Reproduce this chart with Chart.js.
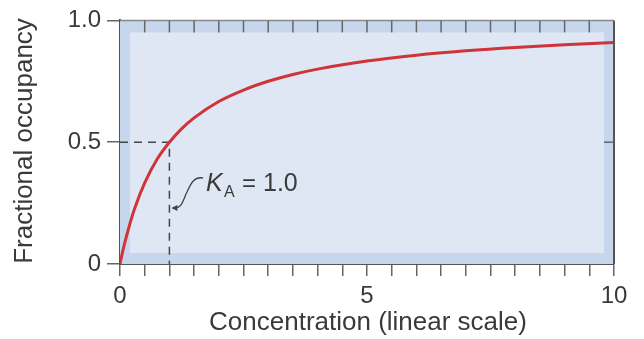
<!DOCTYPE html>
<html>
<head>
<meta charset="utf-8">
<script src="https://cdn.jsdelivr.net/npm/chart.js@4.4.1/dist/chart.umd.min.js"></script>
<style>
  html, body { margin: 0; padding: 0; background: #fff; }
  #wrap { width: 644px; height: 339px; }
</style>
</head>
<body>
<div id="wrap"><canvas id="chart"></canvas></div>
<script>
// values
const concentration = [0, 0.05, 0.1, 0.2, 0.3, 0.5, 0.75, 1, 1.25, 1.5, 2, 2.5, 3, 3.5, 4, 5, 6, 7, 8, 9, 10];
const occupancy = [0, 0.048, 0.09, 0.165, 0.23, 0.333, 0.43, 0.5, 0.556, 0.6, 0.667, 0.714, 0.75, 0.778, 0.8, 0.833, 0.857, 0.875, 0.889, 0.9, 0.909];
const kaX = [0, 1, 1];
const kaY = [0.5, 0.5, 0];
const xLabels = [0, 5, 10];
const yLabels = [0, 0.5, 1.0];
const xTitle = 'Concentration (linear scale)';
const yTitle = 'Fractional occupancy';

const FONT = "'Liberation Sans', Arial, Helvetica, sans-serif";
const TEXT = '#3a3a3a';
const AXIS = '#555';

const curve = concentration.map((x, i) => ({ x: x, y: occupancy[i] }));
const kaLine = kaX.map((x, i) => ({ x: x, y: kaY[i] }));

const framePlugin = {
    id: 'frame',
    beforeDatasetsDraw(chart) {
        const { ctx, chartArea: a } = chart;
        ctx.save();
        ctx.fillStyle = '#c6d6ec';
        ctx.fillRect(a.left, a.top, a.right - a.left, a.bottom - a.top);
        ctx.fillStyle = '#dfe7f4';
        ctx.fillRect(a.left + 10, a.top + 12, a.right - a.left - 20, a.bottom - a.top - 23);
        ctx.restore();
    },
    afterDatasetsDraw(chart) {
        const { ctx, chartArea: a, scales } = chart;
        const xs = scales.x, ys = scales.y;
        ctx.save();
        // top and right frame
        ctx.strokeStyle = '#888';
        ctx.lineWidth = 1.5;
        ctx.beginPath();
        ctx.moveTo(a.left, a.top);
        ctx.lineTo(a.right, a.top);
        ctx.stroke();
        ctx.strokeStyle = AXIS;
        ctx.lineWidth = 2;
        ctx.beginPath();
        ctx.moveTo(a.right, a.top);
        ctx.lineTo(a.right, a.bottom);
        ctx.stroke();
        // inward ticks on top and right
        ctx.strokeStyle = '#666';
        ctx.lineWidth = 1.5;
        for (let v = 0.5; v < 10; v += 0.5) {
            const px = xs.getPixelForValue(v);
            ctx.beginPath();
            ctx.moveTo(px, a.top);
            ctx.lineTo(px, a.top + 12);
            ctx.stroke();
        }
        const py = ys.getPixelForValue(0.5);
        ctx.beginPath();
        ctx.moveTo(a.right, py);
        ctx.lineTo(a.right - 10, py);
        ctx.stroke();

        // K_A annotation
        ctx.fillStyle = TEXT;
        ctx.textBaseline = 'alphabetic';
        ctx.font = 'italic 25px ' + FONT;
        ctx.fillText('K', 206, 191);
        ctx.font = '16px ' + FONT;
        ctx.fillText('A', 224, 197);
        ctx.font = '24px ' + FONT;
        ctx.fillText('=', 242, 191);
        ctx.font = '25px ' + FONT;
        ctx.fillText('1.0', 263, 191);

        // squiggly arrow
        const tipX = xs.getPixelForValue(1) + 3;
        const tipY = 208;
        ctx.strokeStyle = '#444';
        ctx.lineWidth = 1.3;
        ctx.beginPath();
        ctx.moveTo(203, 178);
        ctx.bezierCurveTo(193, 176, 190, 186, 186, 194);
        ctx.bezierCurveTo(183, 202, 181, 208, tipX + 2, tipY);
        ctx.stroke();
        ctx.fillStyle = '#444';
        ctx.beginPath();
        ctx.moveTo(tipX - 1, tipY);
        ctx.lineTo(tipX + 5, tipY - 3);
        ctx.lineTo(tipX + 5, tipY + 3);
        ctx.closePath();
        ctx.fill();

        // axis titles
        ctx.fillStyle = TEXT;
        ctx.font = '26px ' + FONT;
        ctx.textAlign = 'center';
        ctx.textBaseline = 'middle';
        ctx.fillText(xTitle, 368, 323);
        ctx.translate(25, 141);
        ctx.rotate(-Math.PI / 2);
        ctx.fillText(yTitle, 0, 0);
        ctx.restore();
    }
};

new Chart(document.getElementById('chart'), {
    type: 'scatter',
    data: {
        datasets: [{
            data: kaLine,
            showLine: true,
            borderColor: '#444',
            borderWidth: 1.5,
            borderDash: [8, 6],
            pointRadius: 0,
            order: 2
        }, {
            data: curve,
            showLine: true,
            borderColor: '#cf3439',
            borderWidth: 3,
            pointRadius: 0,
            cubicInterpolationMode: 'monotone',
            order: 1
        }]
    },
    options: {
        responsive: true,
        maintainAspectRatio: false,
        animation: false,
        layout: { padding: { top: 17, right: 30, left: 0, bottom: 0 } },
        plugins: {
            legend: { display: false },
            tooltip: { enabled: false }
        },
        scales: {
            x: {
                type: 'linear',
                min: 0,
                max: 10,
                afterFit: (s) => { s.height = 75; },
                border: { color: AXIS, width: 2 },
                grid: { drawOnChartArea: false, drawTicks: true, tickLength: 12, color: '#666', lineWidth: 1.5 },
                ticks: {
                    stepSize: 0.5,
                    autoSkip: false,
                    maxRotation: 0,
                    padding: 6,
                    color: TEXT,
                    font: { family: FONT, size: 24 },
                    callback: (v) => xLabels.includes(v) ? String(v) : ''
                }
            },
            y: {
                type: 'linear',
                min: 0,
                max: 1,
                afterFit: (s) => { s.width = 120; },
                border: { color: AXIS, width: 2 },
                grid: { drawOnChartArea: false, drawTicks: true, tickLength: 13, color: '#666', lineWidth: 1.5 },
                ticks: {
                    stepSize: 0.5,
                    padding: 6,
                    color: TEXT,
                    font: { family: FONT, size: 24 },
                    callback: (v) => {
                        const i = yLabels.indexOf(v);
                        if (i < 0) return '';
                        return v === 0 ? '0' : yLabels[i].toFixed(1);
                    }
                }
            }
        }
    },
    plugins: [framePlugin]
});
</script>
</body>
</html>
